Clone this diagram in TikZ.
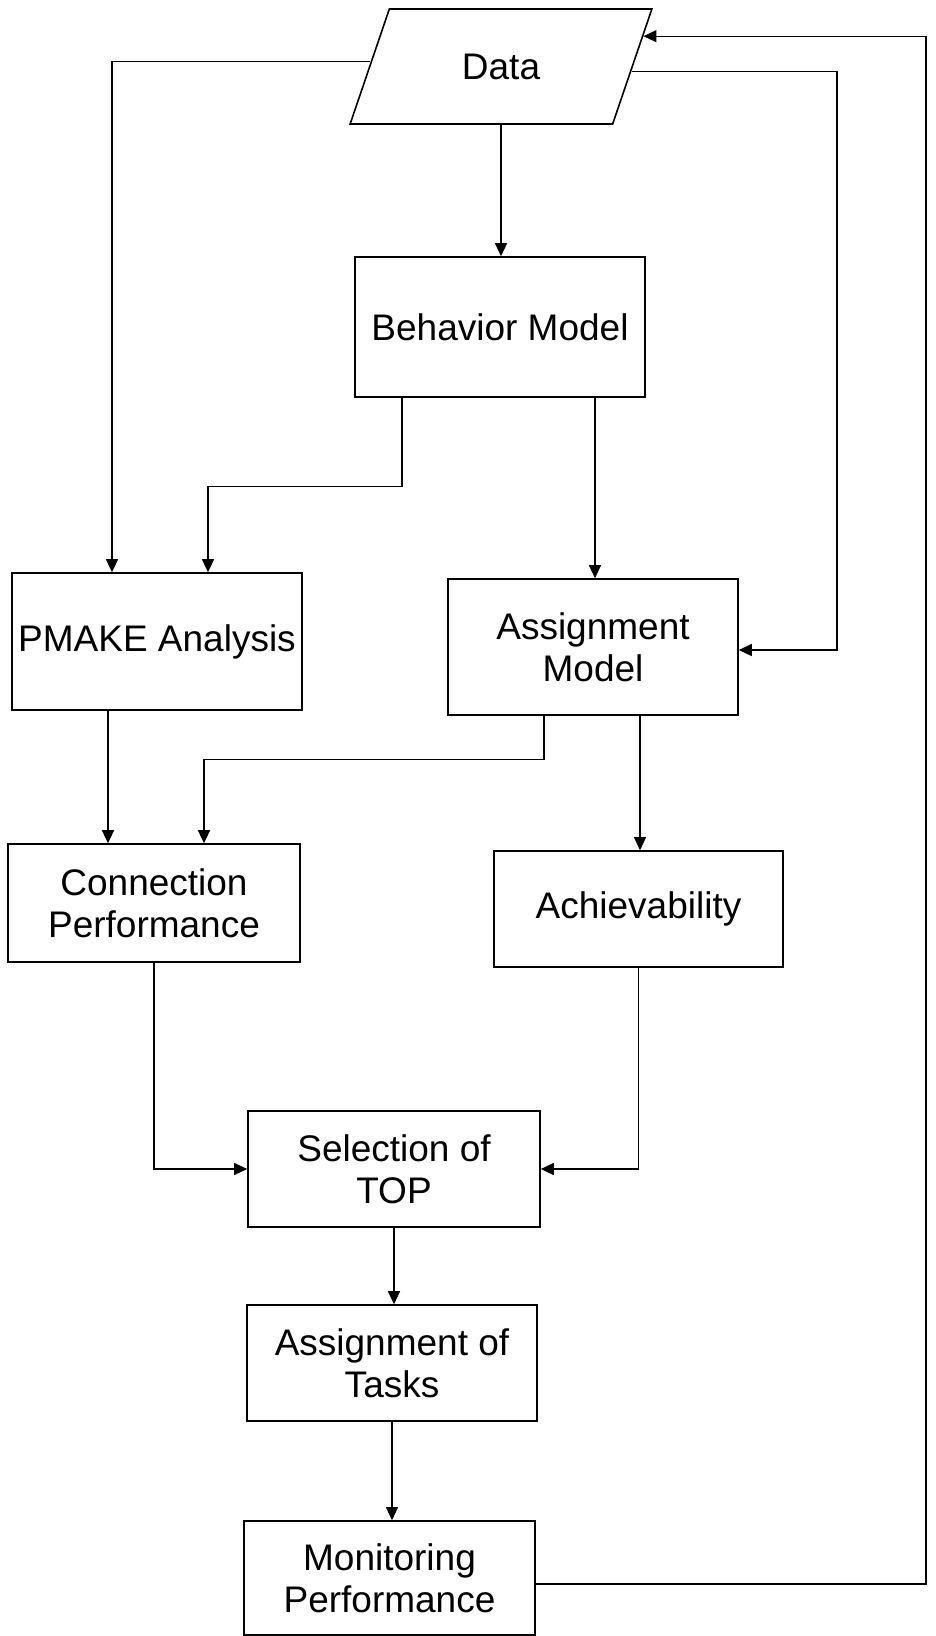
\documentclass[tikz,border=0pt]{standalone}
\usepackage{fontspec}
\setmainfont{Liberation Sans}
\usetikzlibrary{shapes.geometric,arrows.meta,calc}
\begin{document}
\begin{tikzpicture}[x=1pt,y=-1pt,
  box/.style={draw,line width=1.6pt,inner sep=0pt,align=center,font=\fontsize{37}{42}\selectfont},
  datashape/.style={draw,line width=1.6pt,trapezium,trapezium left angle=62,trapezium right angle=118,
    trapezium stretches=true,minimum width=302pt,minimum height=115pt,inner sep=0pt,font=\fontsize{37}{42}\selectfont},
  conn/.style={line width=1.2pt,-{Triangle[length=13pt,width=12pt]}},
  plain/.style={line width=1.2pt}]
\useasboundingbox (0,0) rectangle (936,1636);
\node[datashape] (data) at (501,66.5) {Data};
\node[box,minimum width=290pt,minimum height=140pt] (behav) at (500,327) {Behavior Model};
\node[box,minimum width=290pt,minimum height=137pt] (pmake) at (157,641.5) {PMAKE Analysis};
\node[box,minimum width=290pt,minimum height=136pt] (assign) at (593,647) {Assignment\\Model};
\node[box,minimum width=292pt,minimum height=118pt] (connp) at (154,903) {Connection\\Performance};
\node[box,minimum width=289pt,minimum height=116pt] (achiev) at (638.5,909) {Achievability};
\node[box,minimum width=292pt,minimum height=116pt] (select) at (394,1169) {Selection of\\TOP};
\node[box,minimum width=290pt,minimum height=116pt] (tasks) at (392,1363) {Assignment of\\Tasks};
\node[box,minimum width=291pt,minimum height=114pt] (monit) at (389.5,1578) {Monitoring\\Performance};
\coordinate (dl) at ($(data.top left corner)!0.46!(data.bottom left corner)$);
\coordinate (dr) at ($(data.top right corner)!0.54!(data.bottom right corner)$);
\coordinate (df) at ($(data.top right corner)!0.24!(data.bottom right corner)$);
\coordinate (rr) at (837,0);
\coordinate (fb) at (926,0);
% Data -> Behavior
\draw[conn] (data.south) -- (data.south |- behav.north);
% Data -> PMAKE
\draw[conn] (dl) -| ([xshift=-45pt]pmake.north);
% Data -> Assignment Model
\draw[conn] (dr) -| ([yshift=-3pt]rr |- assign.east) -- ([yshift=-3pt]assign.east);
% Behavior -> PMAKE
\draw[conn] ([xshift=-98pt]behav.south) -- ++(0,89) -| ([xshift=51pt]pmake.north);
% Behavior -> Assignment
\draw[conn] ([xshift=95pt]behav.south) -- ([xshift=95pt]behav.south |- assign.north);
% PMAKE -> Connection
\draw[conn] ([xshift=-49pt]pmake.south) -- ([xshift=-49pt]pmake.south |- connp.north);
% Assignment -> Connection
\draw[conn] ([xshift=-49pt]assign.south) -- ++(0,44) -| ([xshift=50pt]connp.north);
% Assignment -> Achievability
\draw[conn] ([xshift=47pt]assign.south) -- ([xshift=47pt]assign.south |- achiev.north);
% Connection -> Selection
\draw[conn] (connp.south) |- (select.west);
% Achievability -> Selection
\draw[conn] (achiev.south) |- (select.east);
% Selection -> Tasks
\draw[conn] (select.south) -- (select.south |- tasks.north);
% Tasks -> Monitoring
\draw[conn] (tasks.south) -- (tasks.south |- monit.north);
% Monitoring -> Data (feedback)
\draw[conn] ([yshift=-6pt]monit.east) -| (fb |- df) -- (df);
\end{tikzpicture}
\end{document}
